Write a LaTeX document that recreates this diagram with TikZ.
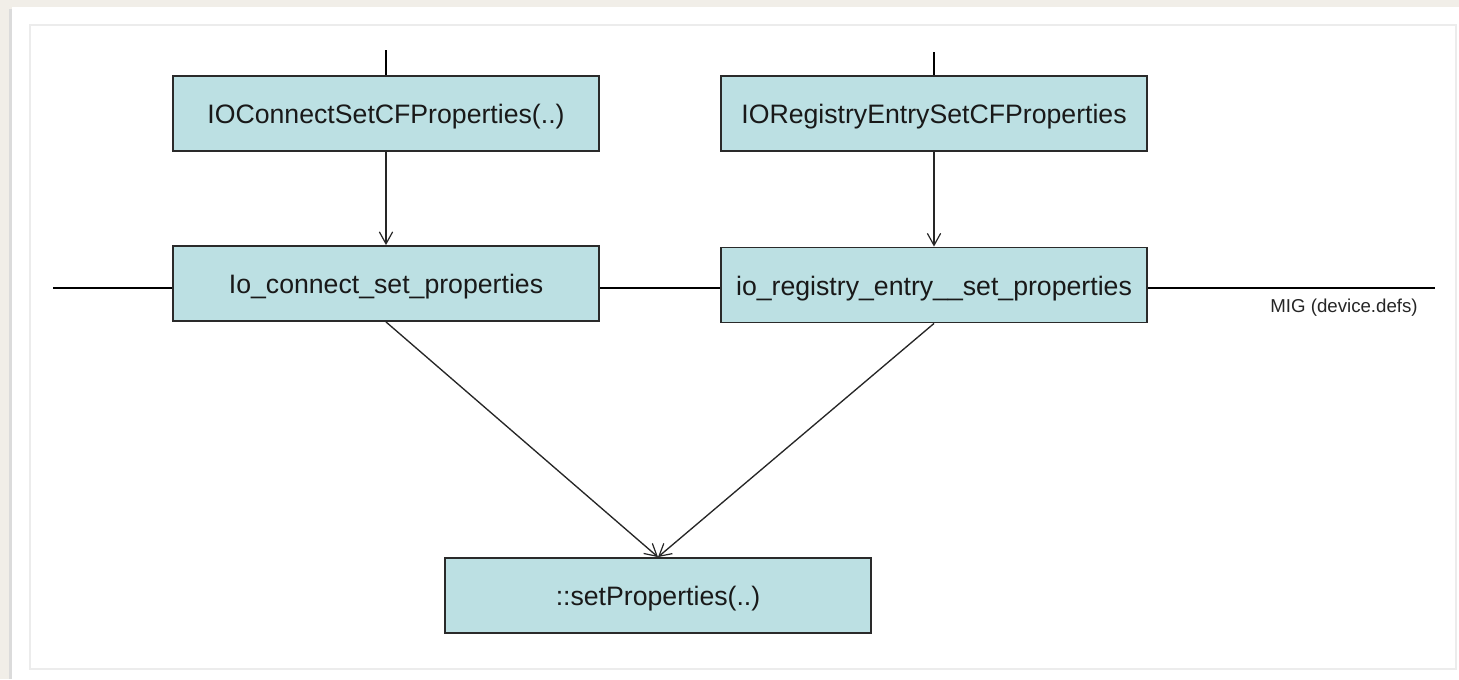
\documentclass[tikz,border=0pt]{standalone}
\usepackage{fontspec}
\setmainfont{Liberation Sans}
\usetikzlibrary{arrows.meta}
\definecolor{paper}{HTML}{F1EEE8}
\definecolor{boxfill}{HTML}{BCE0E3}
\definecolor{boxline}{HTML}{2A2A2A}
\definecolor{panelline}{HTML}{ECECEC}
\tikzset{
  fnbox/.style={draw=boxline, line width=1.4pt, fill=boxfill, minimum width=319.5pt, minimum height=56.25pt, inner sep=0pt, text height=17pt, text depth=2pt, font=\fontsize{20}{24}\selectfont, text=black!90},
  flow/.style={draw=black!85, line width=1pt, -{Straight Barb[length=9pt,width=10pt,line width=0.9pt]}},
  bus/.style={draw=black, line width=1.6pt},
  feed/.style={draw=black, line width=1pt}
}
\begin{document}
\begin{tikzpicture}[x=0.75pt,y=-0.75pt]
\useasboundingbox (0,0) rectangle (1459,679);
\fill[paper] (0,0) rectangle (1459,679);
\fill[black!14] (9,9) rectangle (12,679);
\fill[white] (12,7) rectangle (1459,679);
\draw[panelline, line width=0.8pt] (30,25) rectangle (1456,669);
% bus line
\coordinate (busL) at (53,288);
\coordinate (busR) at (1435,288);
\draw[bus] (busL) -- (busR);
% feeds
\coordinate (topA) at (386,50);
\coordinate (topB) at (934,52);
% boxes
\node[fnbox] (A) at (386,113.5) {IOConnectSetCFProperties(..)};
\node[fnbox] (B) at (934,113.5) {IORegistryEntrySetCFProperties};
\node[fnbox] (C) at (386,283.5) {Io\_connect\_set\_properties};
\node[fnbox] (D) at (934,285) {io\_registry\_entry\_\_set\_properties};
\node[fnbox] (E) at (658,595.5) {::setProperties(..)};
\node[font=\fontsize{14}{16}\selectfont, text=black!85] (mig) at (1344,308) {MIG (device.defs)};
\draw[feed] (topA) -- (A.north);
\draw[feed] (topB) -- (B.north);
\draw[flow] (A.south) -- (C.north);
\draw[flow] (B.south) -- (D.north);
\draw[flow] (C.south) -- (E.north);
\draw[flow] (D.south) -- (E.north);
\end{tikzpicture}
\end{document}
